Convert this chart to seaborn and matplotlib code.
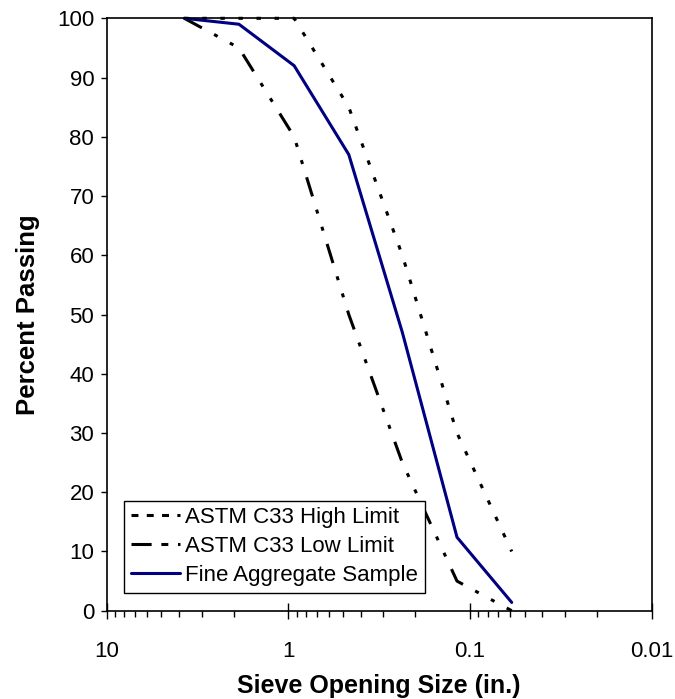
import matplotlib
matplotlib.use("Agg")
import matplotlib.pyplot as plt
from matplotlib.lines import Line2D
from matplotlib.ticker import LogLocator, FixedLocator, NullFormatter
import numpy as np
import pandas as pd
import seaborn as sns

# Sieve openings and percent passing
sieve_sizes = [3.74, 1.87, 0.929, 0.465, 0.236, 0.118, 0.059]
high_limit = [100, 100, 100, 85, 60, 30, 10]
low_limit = [100, 95, 80, 50, 25, 5, 0]
sample = [100, 99, 92, 77, 47, 12.4, 1.4]

series_names = ["ASTM C33 High Limit", "ASTM C33 Low Limit", "Fine Aggregate Sample"]
x_ticks = [10, 1, 0.1, 0.01]
x_tick_labels = ["10", "1", "0.1", "0.01"]
y_ticks = list(range(0, 101, 10))

sns.set_theme(style="white")
plt.rcParams["font.family"] = ["Liberation Sans", "DejaVu Sans"]
plt.rcParams["lines.scale_dashes"] = False
plt.rcParams["text.color"] = "black"
plt.rcParams["axes.labelcolor"] = "black"
plt.rcParams["xtick.color"] = "black"
plt.rcParams["ytick.color"] = "black"

fig = plt.figure(figsize=(6.75, 6.99), dpi=100)
ax = fig.add_axes([0.158, 0.1263, 0.8076, 0.8475])

styles = [
    dict(color="black", linestyle=(0, (3.2, 9.8)), linewidth=2.2, dash_capstyle="butt"),
    dict(color="black", linestyle=(0, (14.4, 10, 2.9, 10, 2.9, 10)), linewidth=2.2, dash_capstyle="butt"),
    dict(color="#000080", linestyle="-", linewidth=2.2),
]
values = [high_limit, low_limit, sample]

for name, vals, st in zip(series_names, values, styles):
    df = pd.DataFrame({"size": sieve_sizes, "passing": vals})
    sns.lineplot(data=df, x="size", y="passing", ax=ax, legend=False,
                 errorbar=None, sort=False, clip_on=False, **st)

ax.set_xscale("log")
ax.set_xlim(10, 0.01)
ax.set_ylim(0, 100)

ax.xaxis.set_major_locator(FixedLocator(x_ticks))
ax.set_xticklabels(x_tick_labels)
ax.xaxis.set_minor_locator(LogLocator(base=10, subs=np.arange(2, 10)))
ax.xaxis.set_minor_formatter(NullFormatter())
ax.set_yticks(y_ticks)

ax.tick_params(axis="x", which="major", direction="inout", length=11.5, width=1,
               color="black", labelsize=16, labelcolor="black", pad=16, bottom=True)
ax.tick_params(axis="x", which="minor", direction="out", length=4.5, width=1,
               color="black", bottom=True)
ax.tick_params(axis="y", which="major", direction="out", length=4, width=1,
               color="black", labelsize=16, labelcolor="black", pad=5, left=True)

for side in ["left", "bottom", "top", "right"]:
    ax.spines[side].set_visible(True)
    ax.spines[side].set_color("black")
    ax.spines[side].set_linewidth(1.2)

ax.set_xlabel("Sieve Opening Size (in.)", fontsize=18, fontweight="bold", labelpad=9,
              color="black")
ax.set_ylabel("Percent Passing", fontsize=18.5, fontweight="bold", labelpad=12,
              color="black")

# Legend keys use the shorter dash rhythm of the spreadsheet legend
legend_handles = [
    Line2D([], [], color="black", linewidth=2.2, dash_capstyle="butt",
           linestyle=(0, (5, 6))),
    Line2D([], [], color="black", linewidth=2.2, dash_capstyle="butt",
           linestyle=(0, (14.5, 7, 5, 7))),
    Line2D([], [], color="#000080", linewidth=2.2),
]
leg = ax.legend(legend_handles, series_names, loc="lower left",
                bbox_to_anchor=(0.032, 0.03), fontsize=16,
                frameon=True, fancybox=False, edgecolor="black", framealpha=1,
                handlelength=2.2, handletextpad=0.25, labelspacing=0.36,
                borderpad=0.3, borderaxespad=0)
leg.get_frame().set_linewidth(1.0)
for t in leg.get_texts():
    t.set_color("black")

fig.savefig("out.png", dpi=100, facecolor="white")
